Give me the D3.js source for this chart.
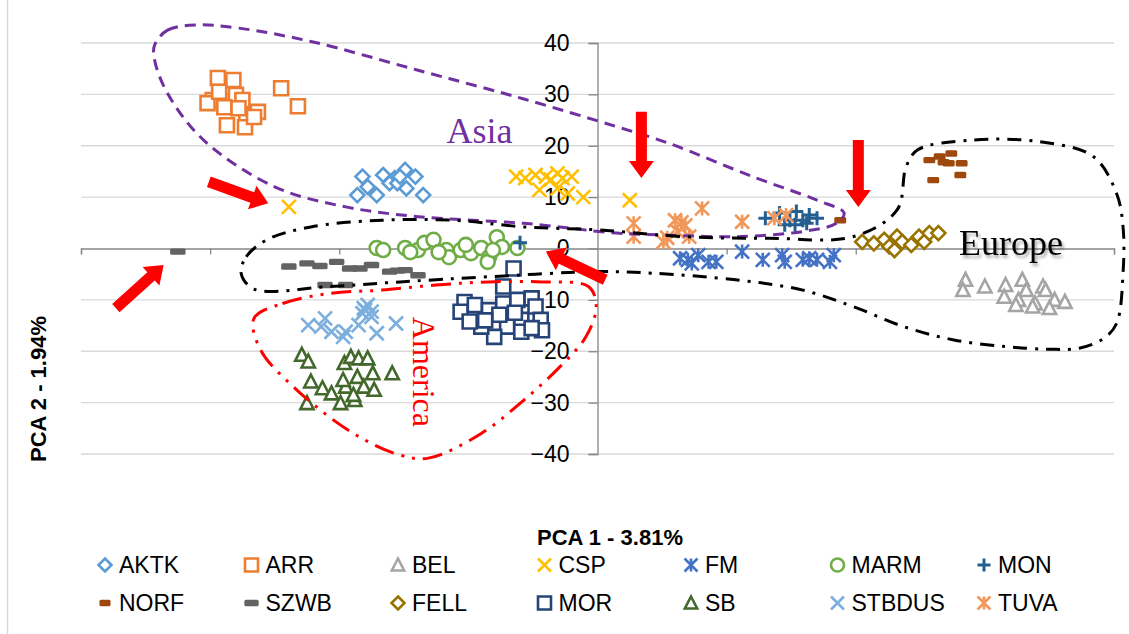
<!DOCTYPE html>
<html>
<head>
<meta charset="utf-8">
<script src="https://cdn.jsdelivr.net/npm/d3@7"></script>
<style>
  body { margin: 0; background: #fff; }
  svg { display: block; font-family: "Liberation Sans", Arial, sans-serif; }
</style>
</head>
<body>
<div id="chart"></div>
<script>
// series, in legend / drawing order
const seriesNames = ["AKTK", "ARR", "BEL", "CSP", "FM", "MARM", "MON",
                     "NORF", "SZWB", "FELL", "MOR", "SB", "STBDUS", "TUVA"];
const seriesColors = ["#5B9BD5", "#ED7D31", "#A5A5A5", "#FFC000", "#4472C4", "#70AD47", "#255E91",
                      "#9E480E", "#636363", "#997300", "#264478", "#43682B", "#7CAFDD", "#F1975A"];
const seriesShapes = ["diamond", "square", "triangle", "x", "star", "circle", "plus",
                      "dash", "dash", "diamond", "square", "triangle", "x", "star"];

const yTicks = [-40, -30, -20, -10, 0, 10, 20, 30, 40];
const xTicks = [-40, -30, -20, -10, 0, 10, 20, 30, 40];

// [PCA1, PCA2]
const AKTK = [[-18.2, 14.0], [-16.6, 14.3], [-15.7, 13.7], [-14.9, 15.3], [-14.1, 14.0], [-18.6, 10.4],
  [-17.8, 12.0], [-17.1, 10.4], [-16.1, 12.7], [-15.5, 12.7], [-14.8, 11.7], [-13.5, 10.4], [-15.3, 14.0]];
const ARR = [[-29.4, 33.2], [-28.2, 32.8], [-24.5, 31.2], [-23.2, 27.7], [-29.8, 28.9], [-30.2, 28.3],
  [-28.0, 29.9], [-28.9, 27.5], [-27.5, 28.9], [-27.2, 25.9], [-26.3, 26.6], [-28.7, 24.0], [-27.3, 23.6],
  [-26.6, 25.6], [-27.8, 27.3], [-29.3, 30.5]];
const BEL = [[28.5, -6.1], [28.3, -8.1], [30.0, -7.4], [31.6, -7.1], [32.9, -6.1], [33.2, -8.1], [34.5, -7.4],
  [31.5, -9.4], [32.6, -10.0], [33.9, -10.7], [35.4, -10.0], [36.2, -10.4], [35.0, -11.6], [33.7, -11.3],
  [32.4, -11.0], [34.7, -8.1]];
const CSP = [[-6.3, 14.0], [-5.6, 13.7], [-4.8, 14.3], [-4.0, 14.0], [-3.1, 14.6], [-2.7, 13.7], [-2.0, 14.0],
  [-4.5, 11.4], [-3.1, 11.7], [-2.3, 10.7], [-1.1, 10.0], [-3.6, 13.4], [-23.9, 8.1], [2.5, 9.4]];
const FM = [[6.4, -1.9], [7.0, -2.2], [7.8, -1.3], [8.6, -2.6], [9.2, -2.6], [11.2, -0.6], [12.8, -2.2],
  [14.3, -1.3], [14.5, -2.6], [15.9, -2.2], [16.4, -1.9], [17.0, -2.2], [18.3, -1.3], [18.0, -2.6], [7.3, -2.9]];
const MARM = [[-17.1, 0.1], [-16.6, -0.3], [-14.9, 0.1], [-13.9, -0.3], [-13.4, 1.1], [-12.7, 1.7],
  [-11.7, -0.3], [-11.5, -1.7], [-10.6, -0.3], [-9.8, -0.9], [-9.0, 0.1], [-8.4, -1.7], [-7.8, 2.2],
  [-7.4, 0.3], [-6.2, 0.1], [-8.5, -2.6], [-12.3, -0.7], [-14.5, -0.7], [-10.2, 0.7], [-8.1, -0.3]];
const MON = [[13.0, 5.9], [14.1, 6.9], [14.9, 5.5], [15.4, 7.2], [15.9, 5.5], [16.4, 6.5], [17.0, 5.9],
  [16.2, 4.9], [15.3, 4.6], [14.5, 4.6], [-6.0, 1.1]];
const NORF = [[25.7, 17.2], [26.5, 17.9], [27.4, 18.5], [27.2, 16.6], [28.2, 16.6], [28.1, 14.3],
  [26.0, 13.3], [26.8, 16.8], [18.8, 5.5]];
const SZWB = [[-23.9, -3.5], [-22.5, -2.9], [-21.5, -3.4], [-20.2, -2.6], [-19.2, -3.9], [-18.4, -3.9],
  [-17.5, -3.2], [-16.1, -4.5], [-14.9, -4.2], [-13.9, -5.2], [-21.1, -7.1], [-19.5, -7.1], [-32.5, -0.6],
  [-15.5, -4.3]];
const FELL = [[20.5, 1.3], [21.4, 1.0], [22.2, 1.7], [22.6, 0.4], [23.2, 2.3], [23.6, 1.3], [24.3, 0.7],
  [24.9, 2.3], [25.3, 1.3], [25.7, 3.0], [26.4, 3.0], [23.0, -0.3]];
const MOR = [[-6.5, -3.9], [-7.3, -7.4], [-10.3, -10.4], [-10.6, -12.3], [-9.5, -11.0], [-8.4, -12.0],
  [-7.3, -10.7], [-6.2, -10.0], [-5.1, -9.7], [-4.8, -11.3], [-4.4, -13.9], [-4.3, -15.9], [-5.9, -13.9],
  [-7.0, -15.2], [-8.0, -17.2], [-9.0, -15.2], [-9.9, -14.2], [-5.9, -16.2], [-5.1, -15.5], [-7.6, -12.9],
  [-8.7, -14.0], [-6.4, -12.5]];
const SB = [[-22.9, -20.7], [-22.4, -22.0], [-22.2, -25.9], [-21.3, -27.2], [-22.5, -30.1], [-20.6, -28.2],
  [-19.6, -22.3], [-19.5, -26.9], [-19.1, -21.1], [-18.5, -21.4], [-17.8, -21.4], [-18.6, -25.0],
  [-18.1, -26.9], [-17.4, -24.3], [-17.3, -27.5], [-15.9, -24.3], [-19.9, -30.1], [-18.8, -29.5],
  [-19.7, -25.6], [-18.9, -28.5]];
const STBDUS = [[-22.4, -14.9], [-21.1, -13.6], [-21.4, -15.2], [-20.6, -16.2], [-19.7, -17.2],
  [-19.5, -16.2], [-18.5, -14.9], [-18.1, -11.6], [-17.8, -11.0], [-18.2, -12.6], [-17.5, -12.3],
  [-17.1, -16.5], [-15.6, -14.6], [-17.5, -13.3], [-18.0, -12.0]];
const TUVA = [[2.8, 4.9], [2.8, 2.3], [5.1, 1.3], [6.0, 5.5], [6.5, 5.1], [7.1, 2.3], [8.1, 7.8], [6.2, 3.3],
  [11.2, 5.2], [13.7, 5.9], [14.6, 6.5], [5.4, 2.1], [6.8, 4.5]];

const seriesData = [AKTK, ARR, BEL, CSP, FM, MARM, MON, NORF, SZWB, FELL, MOR, SB, STBDUS, TUVA];

// hand-drawn region outlines, in data units
const asiaOutline = [[-34.3, 39.6], [-33.3, 42.5], [-31.1, 43.5], [-27.8, 42.9], [-22.2, 40.3], [-13.9, 34.7],
  [-5.7, 29.1], [1.5, 23.7], [5.5, 20.5], [12.0, 14.0], [17.0, 9.4], [19.1, 6.9], [18.5, 4.9], [15.9, 3.3],
  [10.7, 2.3], [5.5, 2.6], [1.5, 3.0], [-5.7, 4.9], [-13.9, 6.2], [-19.5, 8.1], [-25.0, 12.0], [-30.5, 21.1],
  [-33.3, 30.2], [-34.3, 36.7]];
const americaOutline = [[-26.6, -13.6], [-24.4, -10.7], [-20.6, -8.7], [-16.7, -8.1], [-12.5, -7.1],
  [-8.4, -6.5], [-4.3, -6.5], [-0.7, -7.4], [-0.1, -11.3], [-0.9, -17.2], [-2.9, -23.0], [-5.7, -29.5],
  [-9.0, -36.0], [-13.1, -40.8], [-15.3, -40.2], [-18.9, -36.0], [-23.3, -27.5], [-26.1, -19.7]];
const europeOutline = [[-27.6, -4.8], [-27.2, -1.6], [-25.6, 1.7], [-22.2, 4.2], [-16.7, 5.5], [-11.2, 5.5],
  [-5.7, 4.2], [0.2, 3.6], [6.7, 2.3], [13.3, 2.0], [19.8, 2.3], [23.2, 7.5], [23.9, 15.9], [24.8, 19.2],
  [29.0, 21.1], [34.2, 20.8], [38.4, 17.9], [40.2, 10.7], [40.7, 4.2], [40.7, -4.8], [40.2, -14.6],
  [39.2, -17.5], [37.3, -19.4], [35.0, -19.6], [31.6, -19.1], [27.6, -17.8], [23.7, -15.2], [19.8, -11.3],
  [15.9, -8.1], [10.7, -6.1], [4.2, -4.8], [0.2, -4.5], [-8.4, -5.5], [-15.3, -6.5], [-20.8, -7.4],
  [-26.6, -7.9]];
// arrows: [tailX, tailY, tipX, tipY]
const arrows = [[-30.1, 13.0, -25.5, 8.8], [-37.3, -11.6, -33.6, -3.2], [0.6, -6.1, -4.0, -0.6],
  [3.4, 26.6, 3.4, 13.7], [20.2, 21.1, 20.2, 8.1]];

const width = 1129, height = 634;

const svg = d3.select("#chart")
  .append("svg")
  .attr("width", width)
  .attr("height", height);

// soft shadow used by the "Europe" label
const shadow = svg.append("defs").append("filter")
  .attr("id", "shadow")
  .attr("x", "-10%").attr("y", "-20%")
  .attr("width", "130%").attr("height", "150%");
shadow.append("feDropShadow")
  .attr("dx", 2).attr("dy", 3)
  .attr("stdDeviation", 1.5)
  .attr("flood-color", "#000")
  .attr("flood-opacity", 0.35);

const x = d3.scaleLinear().domain([-40, 40]).range([81, 1114]);
const y = d3.scaleLinear().domain([-40, 40]).range([454, 43]);

// chart frame edge on the left
svg.append("line")
  .attr("x1", 7.5).attr("x2", 7.5)
  .attr("y1", 0).attr("y2", height)
  .style("stroke", "#D9D9D9")
  .style("stroke-width", 1.5);

// horizontal gridlines
svg.append("g")
  .selectAll("line")
  .data(yTicks.filter(d => d !== 0))
  .join("line")
  .attr("x1", x(-40)).attr("x2", x(40))
  .attr("y1", d => y(d)).attr("y2", d => y(d))
  .style("stroke", "#D9D9D9")
  .style("stroke-width", 1.3);

// y axis through x = 0
const yAxis = svg.append("g")
  .attr("transform", `translate(${x(0)},0)`)
  .call(d3.axisLeft(y).tickValues(yTicks).tickSize(9).tickPadding(5).tickFormat(d3.format("d")));
yAxis.select(".domain").style("stroke", "#868686").style("stroke-width", 1.3);
yAxis.selectAll(".tick line").style("stroke", "#868686").style("stroke-width", 1.3);
yAxis.selectAll(".tick text")
  .style("font-size", "23px")
  .style("font-family", "'Liberation Sans', Arial, sans-serif")
  .style("fill", "#000")
  .attr("x", -28);

// x axis through y = 0, no labels
const xAxis = svg.append("g")
  .attr("transform", `translate(0,${y(0)})`)
  .call(d3.axisBottom(x).tickValues(xTicks).tickSize(6).tickFormat(""));
xAxis.select(".domain").style("stroke", "#868686").style("stroke-width", 1.3);
xAxis.selectAll(".tick line").style("stroke", "#868686").style("stroke-width", 1.3);
xAxis.selectAll(".tick").filter(d => d === 0).remove();

function markerPath(shape, s) {
  const h = s / 2;
  switch (shape) {
    case "diamond": return `M0,${-h}L${h},0L0,${h}L${-h},0Z`;
    case "square": return `M${-h},${-h}H${h}V${h}H${-h}Z`;
    case "triangle": return `M0,${-h}L${h * 0.95},${h * 0.85}L${-h * 0.95},${h * 0.85}Z`;
    case "x": return `M${-h},${-h}L${h},${h}M${-h},${h}L${h},${-h}`;
    case "star": return `M${-h},${-h}L${h},${h}M${-h},${h}L${h},${-h}M0,${-h}V${h}`;
    case "plus": return `M${-h},0H${h}M0,${-h}V${h}`;
    case "circle": return `M${h},0A${h},${h} 0 1,1 ${-h},0A${h},${h} 0 1,1 ${h},0Z`;
  }
  return "";
}

function drawMarker(g, shape, color, s) {
  if (shape === "dash") {
    const w = color === "#9E480E" ? s * 0.85 : s * 1.1;
    g.append("rect")
      .attr("x", -w / 2).attr("y", -3.2)
      .attr("width", w).attr("height", 6.4)
      .attr("rx", 1.5)
      .style("fill", color);
    return;
  }
  const open = shape === "x" || shape === "star" || shape === "plus";
  g.append("path")
    .attr("d", markerPath(shape, s))
    .style("fill", open ? "none" : "#fff")
    .style("stroke", color)
    .style("stroke-width", shape === "plus" ? 3 : 2.6)
    .style("stroke-linejoin", "miter");
}

// points
seriesData.forEach((pts, i) => {
  const g = svg.append("g");
  pts.forEach(p => {
    const m = g.append("g").attr("transform", `translate(${x(p[0])},${y(p[1])})`);
    drawMarker(m, seriesShapes[i], seriesColors[i], 14);
  });
});

// region outlines
const outline = d3.line()
  .x(d => x(d[0]))
  .y(d => y(d[1]))
  .curve(d3.curveCatmullRomClosed.alpha(0.5));

svg.append("path")
  .attr("d", outline(asiaOutline))
  .style("fill", "none")
  .style("stroke", "#7030A0")
  .style("stroke-width", 3)
  .style("stroke-dasharray", "11,7");

svg.append("path")
  .attr("d", outline(europeOutline))
  .style("fill", "none")
  .style("stroke", "#000")
  .style("stroke-width", 3)
  .style("stroke-dasharray", "14,8,3,8");

svg.append("path")
  .attr("d", outline(americaOutline))
  .style("fill", "none")
  .style("stroke", "#FF0000")
  .style("stroke-width", 3)
  .style("stroke-dasharray", "20,8,3,8,3,8");

// red block arrows
function arrowPath(x1, y1, x2, y2) {
  const shaft = 11, head = 25, headLen = 17;
  const dx = x2 - x1, dy = y2 - y1;
  const len = Math.sqrt(dx * dx + dy * dy);
  const ux = dx / len, uy = dy / len, nx = -uy, ny = ux;
  const bx = x2 - ux * headLen, by = y2 - uy * headLen;
  const pts = [
    [x1 + nx * shaft / 2, y1 + ny * shaft / 2],
    [bx + nx * shaft / 2, by + ny * shaft / 2],
    [bx + nx * head / 2, by + ny * head / 2],
    [x2, y2],
    [bx - nx * head / 2, by - ny * head / 2],
    [bx - nx * shaft / 2, by - ny * shaft / 2],
    [x1 - nx * shaft / 2, y1 - ny * shaft / 2]
  ];
  return "M" + pts.map(p => p.join(",")).join("L") + "Z";
}

svg.append("g")
  .selectAll("path")
  .data(arrows)
  .join("path")
  .attr("d", d => arrowPath(x(d[0]), y(d[1]), x(d[2]), y(d[3])))
  .style("fill", "#FF0000");

// region labels
svg.append("text")
  .attr("x", x(-11.7)).attr("y", y(20.5))
  .text("Asia")
  .style("font-family", "'Liberation Serif', 'Times New Roman', serif")
  .style("font-size", "36px")
  .style("fill", "#7030A0");

svg.append("text")
  .attr("x", x(28.0)).attr("y", y(-1.3))
  .attr("filter", "url(#shadow)")
  .text("Europe")
  .style("font-family", "'Liberation Serif', 'Times New Roman', serif")
  .style("font-size", "36px")
  .style("fill", "#000");

svg.append("text")
  .attr("transform", `translate(${x(-14.3)},${y(-13.3)}) rotate(90)`)
  .text("America")
  .style("font-family", "'Liberation Serif', 'Times New Roman', serif")
  .style("font-size", "32px")
  .style("fill", "#FF0000");

// axis titles
svg.append("text")
  .attr("x", 610).attr("y", 545)
  .attr("text-anchor", "middle")
  .text("PCA 1 - 3.81%")
  .style("font-size", "22px")
  .style("font-weight", "bold");

svg.append("text")
  .attr("transform", "translate(46,389) rotate(-90)")
  .attr("text-anchor", "middle")
  .text("PCA 2 - 1.94%")
  .style("font-size", "22px")
  .style("font-weight", "bold");

// legend, 2 rows x 7
const legend = svg.append("g");
seriesNames.forEach((name, i) => {
  const col = i % 7, row = Math.floor(i / 7);
  const g = legend.append("g")
    .attr("transform", `translate(${105 + col * 146.5},${565 + row * 38})`);
  drawMarker(g, seriesShapes[i], seriesColors[i], 13);
  g.append("text")
    .attr("x", 14)
    .attr("y", 8)
    .text(name)
    .style("font-size", "23px")
    .style("fill", "#000");
});
</script>
</body>
</html>
